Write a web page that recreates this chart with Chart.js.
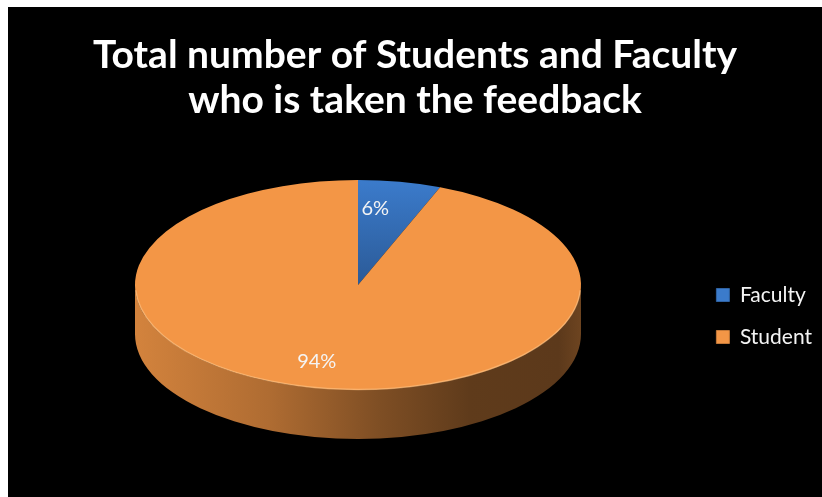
<!DOCTYPE html>
<html>
<head>
<meta charset="utf-8">
<script src="https://cdn.jsdelivr.net/npm/chart.js@4.4.1/dist/chart.umd.min.js"></script>
<style>
  html, body { margin: 0; padding: 0; background: #fff; }
  #wrap { position: absolute; left: 8px; top: 7px; width: 814px; height: 490px; background: #000; }
</style>
</head>
<body>
<div id="wrap"><canvas id="myChart" width="814" height="490"></canvas></div>
<script>
const titleLines = ['Total number of Students and Faculty', 'who is taken the feedback'];
const categories = ['Faculty', 'Student'];
const values = [6, 94];
const colors = ['#3b7bcb', '#f39646'];
const shadeTo = ['#2b5a97', '#f39646'];

// where the tilted pie lands on the canvas
const disc = { cx: 350, cy: 278, rx: 223, ry: 105, depth: 49 };

function rgb(hex) {
  const n = parseInt(hex.slice(1), 16);
  return [n >> 16, (n >> 8) & 255, n & 255];
}
function dim(hex, f) {
  const c = rgb(hex);
  return `rgb(${Math.round(c[0] * f)},${Math.round(c[1] * f)},${Math.round(c[2] * f)})`;
}

function faceColor(c) {
  const area = c.chart.chartArea;
  const i = c.dataIndex;
  if (!area) return colors[i];
  const r = Math.min(area.right - area.left, area.bottom - area.top) / 2;
  const midY = (area.top + area.bottom) / 2;
  const g = c.chart.ctx.createLinearGradient(0, midY - r, 0, midY);
  g.addColorStop(0, colors[i]);
  g.addColorStop(1, shadeTo[i]);
  return g;
}

const pie3d = {
  id: 'pie3d',
  beforeDatasetsDraw(chart) {
    const ctx = chart.ctx;
    const meta = chart.getDatasetMeta(0);
    const e = disc;
    // side wall, only the front half is visible
    meta.data.forEach((arc, i) => {
      const a0 = Math.max(arc.startAngle, 0);
      const a1 = Math.min(arc.endAngle, Math.PI);
      if (a1 <= a0) return;
      const g = ctx.createLinearGradient(e.cx - e.rx, 0, e.cx + e.rx, 0);
      g.addColorStop(0, dim(colors[i], 0.87));
      g.addColorStop(0.3, dim(colors[i], 0.72));
      g.addColorStop(0.55, dim(colors[i], 0.52));
      g.addColorStop(0.75, dim(colors[i], 0.39));
      g.addColorStop(0.95, dim(colors[i], 0.38));
      g.addColorStop(1, dim(colors[i], 0.45));
      ctx.beginPath();
      ctx.ellipse(e.cx, e.cy, e.rx, e.ry, 0, a0, a1, false);
      ctx.ellipse(e.cx, e.cy + e.depth, e.rx, e.ry, 0, a1, a0, true);
      ctx.closePath();
      ctx.fillStyle = g;
      ctx.fill();
    });
    // squash the library's round pie into the top face
    const arc = meta.data[0];
    ctx.save();
    ctx.translate(e.cx, e.cy);
    ctx.scale(e.rx / arc.outerRadius, e.ry / arc.outerRadius);
    ctx.translate(-arc.x, -arc.y);
  },
  afterDatasetsDraw(chart) {
    const ctx = chart.ctx;
    ctx.restore();
    const meta = chart.getDatasetMeta(0);
    const e = disc;
    // light rim on the front edge
    ctx.save();
    ctx.beginPath();
    ctx.ellipse(e.cx, e.cy, e.rx - 0.5, e.ry - 0.5, 0, 0.05, Math.PI - 0.05, false);
    ctx.strokeStyle = 'rgba(255,200,140,0.55)';
    ctx.lineWidth = 1.5;
    ctx.stroke();
    ctx.restore();

    const total = values.reduce((a, b) => a + b, 0);
    ctx.save();
    ctx.font = '20px Lato';
    ctx.fillStyle = '#f4f4f4';
    ctx.textAlign = 'center';
    ctx.textBaseline = 'middle';
    meta.data.forEach((arc, i) => {
      const mid = (arc.startAngle + arc.endAngle) / 2;
      const x = e.cx + e.rx * 0.7 * Math.cos(mid) - 12;
      const y = e.cy + e.ry * 0.74 * Math.sin(mid);
      ctx.fillText(Math.round(values[i] / total * 100) + '%', x, y);
    });
    ctx.restore();
  }
};

const ctx = document.getElementById('myChart').getContext('2d');
const myChart = new Chart(ctx, {
  type: 'pie',
  data: {
    labels: categories,
    datasets: [{
      data: values,
      backgroundColor: faceColor,
      borderWidth: 0,
      clip: false
    }]
  },
  options: {
    responsive: false,
    animation: false,
    events: [],
    plugins: {
      title: {
        display: true,
        text: titleLines,
        color: '#ffffff',
        font: { family: 'Lato', weight: 'bold', size: 39, lineHeight: 1.154 },
        padding: { top: 26, bottom: 12 }
      },
      legend: {
        position: 'right',
        fullSize: false,
        labels: {
          color: '#f4f4f4',
          font: { family: 'Lato', size: 21 },
          boxWidth: 13,
          boxHeight: 13,
          padding: 21,
          generateLabels: () => categories.map((name, i) => ({
            text: name,
            fillStyle: colors[i],
            strokeStyle: dim(colors[i], 0.8),
            lineWidth: 1,
            fontColor: '#f4f4f4',
            hidden: false,
            index: i
          }))
        }
      },
      tooltip: { enabled: false }
    }
  },
  plugins: [pie3d]
});
</script>
</body>
</html>
